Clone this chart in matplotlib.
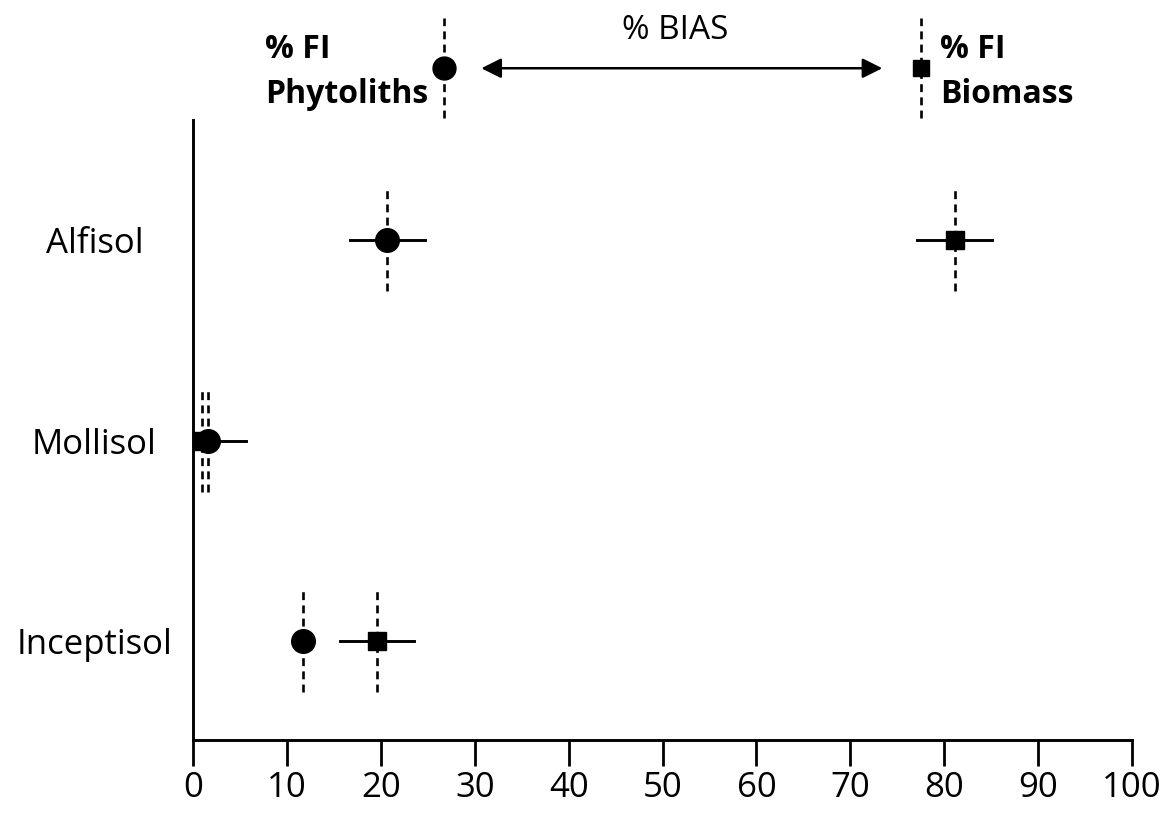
import matplotlib
matplotlib.use("Agg")
import matplotlib.pyplot as plt

soils = ["Alfisol", "Mollisol", "Inceptisol"]
phyto = [20.7, 1.6, 11.7]
phyto_err = [4.0, 4.0, 0.0]
biomass = [81.1, 1.0, 19.6]
biomass_err = [4.0, 0.0, 3.9]
xticks = [0, 10, 20, 30, 40, 50, 60, 70, 80, 90, 100]
legend_phyto_x = 26.7
legend_bio_x = 77.5

plt.rcParams['font.family'] = ['Open Sans', 'DejaVu Sans']

fig = plt.figure(figsize=(11.7, 8.16), dpi=100)
ax = fig.add_axes([0.165, 0.0931, 0.8026, 0.7599])

ypos = [3, 2, 1]
half = 0.254
dash = (0, (3.0, 2.0))

for y, px, pe, bx, be in zip(ypos, phyto, phyto_err, biomass, biomass_err):
    for xv in (bx, px):
        ax.plot([xv, xv], [y - half, y + half], color='black', lw=1.9, linestyle=dash, zorder=2)
    if be > 0:
        ax.plot([bx - be, bx + be], [y, y], color='black', lw=2.1, zorder=3)
    ax.plot(bx, y, marker='s', ms=13, color='black', zorder=4)
    if pe > 0:
        ax.plot([px - pe, px + pe], [y, y], color='black', lw=2.1, zorder=3)
    ax.plot(px, y, marker='o', ms=17, color='black', zorder=5)

ax.set_xlim(0, 100)
ax.set_ylim(0.506, 3.6)
ax.set_xticks(xticks)
ax.set_xticklabels([str(t) for t in xticks])
ax.set_yticks(ypos)
ax.set_yticklabels(soils)
ax.tick_params(axis='x', direction='out', length=19, width=2.0, labelsize=25, pad=3)
ax.tick_params(axis='y', length=0, labelsize=25, pad=71)
for lab in ax.get_yticklabels():
    lab.set_horizontalalignment('center')
for s in ('top', 'right'):
    ax.spines[s].set_visible(False)
for s in ('left', 'bottom'):
    ax.spines[s].set_linewidth(2.1)

# legend-like header above the axes
ly = 3.858
ax.plot([legend_phyto_x] * 2, [3.608, 4.107], color='black', lw=1.9, linestyle=dash, clip_on=False)
ax.plot([legend_bio_x] * 2, [3.608, 4.107], color='black', lw=1.9, linestyle=dash, clip_on=False)
ax.plot(legend_phyto_x, ly, marker='o', ms=16.5, color='black', clip_on=False, zorder=5)
ax.plot(legend_bio_x, ly, marker='s', ms=12, color='black', clip_on=False, zorder=5)
ax.annotate('', xy=(73.4, ly), xytext=(30.7, ly), xycoords='data',
            arrowprops=dict(arrowstyle='<|-|>', color='black', lw=1.8, mutation_scale=30,
                            shrinkA=0, shrinkB=0), annotation_clip=False)
ax.text(51.3, 4.004, '% BIAS', ha='center', va='baseline', fontsize=24)
ax.text(7.67, 3.909, '% FI', ha='left', va='baseline', fontsize=23, fontweight='bold')
ax.text(7.67, 3.685, 'Phytoliths', ha='left', va='baseline', fontsize=23, fontweight='bold')
ax.text(79.55, 3.909, '% FI', ha='left', va='baseline', fontsize=23, fontweight='bold')
ax.text(79.55, 3.685, 'Biomass', ha='left', va='baseline', fontsize=23, fontweight='bold')

fig.savefig('out.png', dpi=100)
